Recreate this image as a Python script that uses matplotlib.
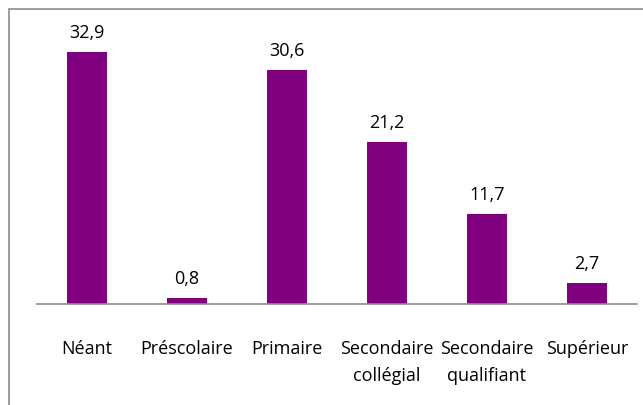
import matplotlib
matplotlib.use("Agg")
import matplotlib.pyplot as plt
from matplotlib.patches import Rectangle

categories = ["Néant", "Préscolaire", "Primaire", "Secondaire\ncollégial",
              "Secondaire\nqualifiant", "Supérieur"]
values = [32.9, 0.8, 30.6, 21.2, 11.7, 2.7]
labels = ["32,9", "0,8", "30,6", "21,2", "11,7", "2,7"]

W, H = 643, 406
fig = plt.figure(figsize=(W / 100, H / 100), dpi=100)
plt.rcParams["font.family"] = ["Open Sans", "DejaVu Sans"]

# outer chart frame (runs off the right/bottom edge like the source)
fig.patches.append(Rectangle((9 / W, -0.1), 1.2, 1 - 10 / H + 0.1,
                             transform=fig.transFigure, fill=False,
                             edgecolor="#8c8c8c", lw=1.2))

ax = fig.add_axes([37 / W, 1 - 305 / H, 600 / W, 268 / H])
x = range(len(values))
ax.bar(x, values, width=0.4, color="#800080")
for i, (v, t) in enumerate(zip(values, labels)):
    ax.annotate(t, (i, v), xytext=(0, 8), textcoords="offset points",
                ha="center", va="bottom", fontsize=13, color="black")

ax.set_xlim(-0.5, len(values) - 0.5)
ax.set_ylim(0, 35)
ax.set_yticks([])
ax.set_xticks(list(x))
ax.set_xticklabels(categories, fontsize=13, linespacing=1.65)
ax.tick_params(axis="x", length=0, pad=25)
for s in ["top", "right", "left"]:
    ax.spines[s].set_visible(False)
ax.spines["bottom"].set_color("#8c8c8c")
ax.spines["bottom"].set_linewidth(1.2)

fig.savefig("out.png", dpi=100)
